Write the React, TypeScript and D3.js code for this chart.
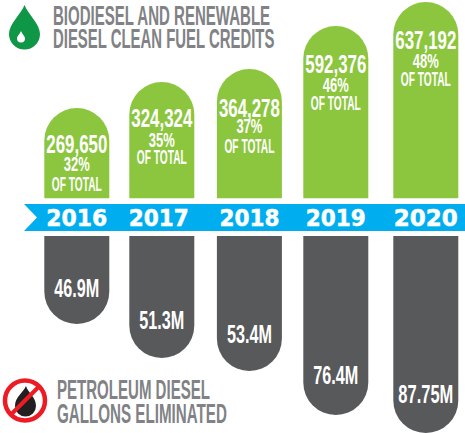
import React from "react";
import * as d3 from "d3";

const years = ["2016", "2017", "2018", "2019", "2020"];
const credits = [269650, 324324, 364278, 592376, 637192];
const shares = [32, 35, 37, 46, 48];
const gallons = [46.9, 51.3, 53.4, 76.4, 87.75];
const gallonLabels = ["46.9M", "51.3M", "53.4M", "76.4M", "87.75M"];

const W = 465, H = 433;
const BAR_W = 65;
const COND = "'Liberation Sans Narrow', 'Liberation Sans', sans-serif";

// The infographic is not to scale: piecewise scales reproduce its drawn heights
const x = d3.scaleOrdinal<string, number>().domain(years).range([76.8, 161.8, 249.4, 335.8, 425.8]);
const yTop = d3.scaleLinear().domain(credits).range([108, 82, 69, 26, 2]);
const yBottom = d3.scaleLinear().domain(gallons).range([324, 358, 371, 415, 433]);
const fmt = d3.format(",");

const GREEN_BASE = 198.3, GREY_TOP = 236;

// baseline offsets of text from the top of each green bar
const valueDy = [45, 45, 48, 47, 47];
const pctDy = [63, 65, 64, 66, 66];
const totalDy = [83, 82, 84, 84, 84];
const yearDx = [0, -3, 0, 0, 0];
const yearWidth = [61, 60, 60, 60, 64];
const gallonDy = [27, 29, 28, 31, 30];

const ctx = typeof document !== "undefined" ? document.createElement("canvas").getContext("2d") : null;
function squeeze(str: string, font: string, w: number) {
  if (!ctx) return 1;
  ctx.font = font;
  return w / ctx.measureText(str).width;
}

function topBar(cx: number, top: number) {
  const r = BAR_W / 2;
  return `M${cx - r},${GREEN_BASE}V${top + r}A${r},${r} 0 0 1 ${cx + r},${top + r}V${GREEN_BASE}Z`;
}
function bottomBar(cx: number, bottom: number) {
  const r = BAR_W / 2;
  return `M${cx - r},${GREY_TOP}V${bottom - r}A${r},${r} 0 0 0 ${cx + r},${bottom - r}V${GREY_TOP}Z`;
}

function T(p: any) {
  const { x: px, y: py, w, size, fill = "#fff", family = COND, weight = 700, anchor = "middle", stroke, children } = p;
  const str = String(Array.isArray(children) ? children.join("") : children);
  const sx = squeeze(str, `${weight} ${size}px ${family}`, w);
  return (
    <text transform={`translate(${px},${py}) scale(${sx},1)`} fontFamily={family} fontSize={size} fontWeight={weight}
      fill={fill} textAnchor={anchor} stroke={stroke} strokeWidth={stroke ? 0.5 : undefined}>{str}</text>
  );
}

export default function App() {
  return (
    <svg width={W} height={H} viewBox={`0 0 ${W} ${H}`} style={{ position: "fixed", left: 0, top: 0, background: "#fff" }}>
      {/* header icon */}
      <path d="M24.5,5C21,14 9,24 9,34A15.5,15.5 0 0 0 40,34C40,24 28,14 24.5,5Z" fill="#0f9647" />
      <path d="M21,31C20,34 17,36 17,38.5A4,4 0 0 0 25,38.5C25,36 22,34 21,31Z" fill="#fff" />
      <T x={53} y={24.5} size={28} w={218} anchor="start" fill="#808285">BIODIESEL AND RENEWABLE</T>
      <T x={53} y={48} size={28} w={222} anchor="start" fill="#808285">DIESEL CLEAN FUEL CREDITS</T>

      {/* green bars */}
      {years.map((yr, i) => {
        const cx = x(yr), top = yTop(credits[i]);
        return (
          <g key={yr}>
            <path d={topBar(cx, top)} fill="#8cc63f" />
            <T x={cx} y={top + valueDy[i]} size={26} w={61}>{fmt(credits[i])}</T>
            <T x={cx} y={top + pctDy[i]} size={20} w={26}>{shares[i]}%</T>
            <T x={cx} y={top + totalDy[i]} size={20} w={50}>OF TOTAL</T>
          </g>
        );
      })}

      {/* ribbon */}
      <polygon points={`24,204 ${W},204 ${W},231 24,231 37,217.5`} fill="#00aeef" />
      {years.map((yr, i) => (
        <T key={yr} x={x(yr) + yearDx[i]} y={226} size={23} w={yearWidth[i]} stroke="#fff"
          family="'DejaVu Sans', sans-serif" weight={700}>{yr}</T>
      ))}

      {/* grey bars */}
      {years.map((yr, i) => {
        const cx = x(yr), bottom = yBottom(gallons[i]);
        return (
          <g key={yr}>
            <path d={bottomBar(cx, bottom)} fill="#58595b" />
            <T x={cx} y={bottom - gallonDy[i]} size={26} w={i === 4 ? 55 : 45}>{gallonLabels[i]}</T>
          </g>
        );
      })}

      {/* footer icon */}
      <path d="M26,386C23,393 15,397 15,406A10.5,10.5 0 0 0 36,406C36,397 28,393 26,386Z" fill="#231f20" />
      <circle cx={25} cy={400.5} r={20} fill="none" stroke="#ed1c24" strokeWidth={4.5} />
      <line x1={11} y1={414.5} x2={39} y2={386.5} stroke="#ed1c24" strokeWidth={4} />
      <T x={57} y={399} size={28} w={153} anchor="start" fill="#808285">PETROLEUM DIESEL</T>
      <T x={57} y={423} size={28} w={170} anchor="start" fill="#808285">GALLONS ELIMINATED</T>
    </svg>
  );
}
